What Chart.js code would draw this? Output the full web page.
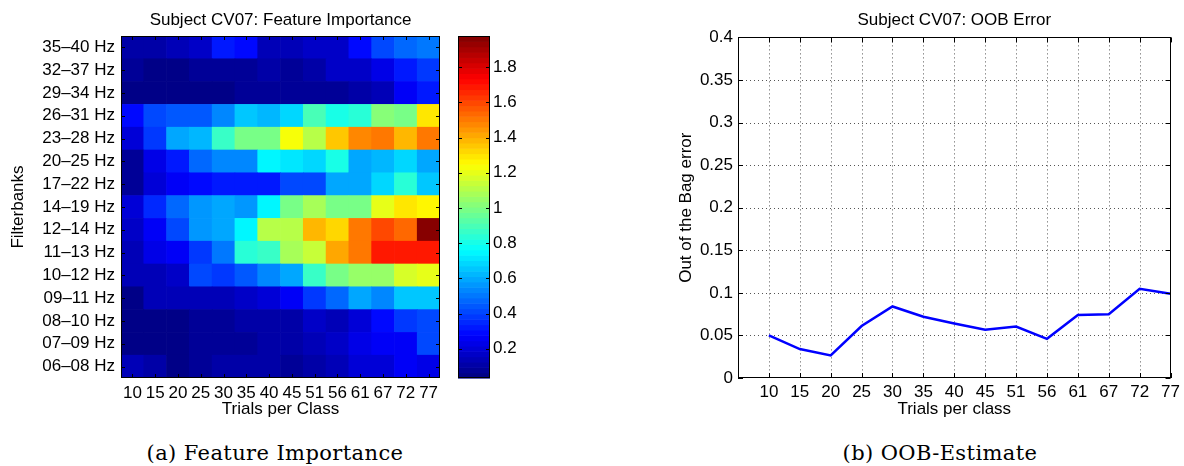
<!DOCTYPE html>
<html><head><meta charset="utf-8">
<script src="https://cdn.jsdelivr.net/npm/chart.js@4.4.1/dist/chart.umd.min.js"></script>
<style>
html,body{margin:0;padding:0;background:#fff;}
body{width:1184px;height:466px;position:relative;overflow:hidden;}
canvas{position:absolute;}
.cap{position:absolute;font-family:"DejaVu Serif",serif;font-size:21px;letter-spacing:0.4px;color:#000;white-space:nowrap;transform:translateX(-50%);line-height:24px;}
</style></head><body>
<canvas id="heat" width="446" height="420" style="left:0;top:0"></canvas>
<canvas id="cbar" width="64" height="420" style="left:458px;top:0"></canvas>
<canvas id="oob" width="524" height="420" style="left:660px;top:0"></canvas>
<div class="cap" style="left:275px;top:441px">(a) Feature Importance</div>
<div class="cap" style="left:940px;top:441px">(b) OOB-Estimate</div>
<script>
// ---- data ----
const trials = ['10','15','20','25','30','35','40','45','51','56','61','67','72','77'];
const bands = ['06–08 Hz','07–09 Hz','08–10 Hz','09–11 Hz','10–12 Hz','11–13 Hz','12–14 Hz','14–19 Hz','17–22 Hz','20–25 Hz','23–28 Hz','26–31 Hz','29–34 Hz','32–37 Hz','35–40 Hz'];
const r06_08 = [0.13,0.10,0.06,0.08,0.10,0.10,0.10,0.08,0.10,0.15,0.20,0.20,0.27,0.24];
const r07_09 = [0.06,0.05,0.05,0.08,0.08,0.07,0.10,0.10,0.13,0.16,0.22,0.25,0.27,0.40];
const r08_10 = [0.06,0.05,0.05,0.08,0.08,0.10,0.10,0.10,0.18,0.14,0.20,0.29,0.38,0.40];
const r09_11 = [0.04,0.13,0.13,0.13,0.13,0.18,0.21,0.27,0.38,0.47,0.61,0.52,0.66,0.66];
const r10_12 = [0.15,0.13,0.18,0.40,0.39,0.44,0.54,0.61,0.86,1.00,1.05,1.05,1.17,1.20];
const r11_13 = [0.15,0.22,0.27,0.38,0.49,0.84,0.86,1.08,1.15,1.41,1.51,1.68,1.68,1.69];
const r12_14 = [0.18,0.27,0.42,0.57,0.61,0.74,1.10,1.10,1.37,1.32,1.51,1.59,1.54,1.97];
const r14_19 = [0.20,0.35,0.47,0.57,0.61,0.58,0.76,0.98,1.08,0.98,0.98,1.20,1.29,1.25];
const r17_22 = [0.08,0.20,0.27,0.30,0.32,0.33,0.33,0.42,0.42,0.61,0.61,0.70,0.84,0.65];
const r20_25 = [0.07,0.22,0.32,0.48,0.54,0.54,0.76,0.73,0.69,0.81,0.61,0.64,0.70,0.61];
const r23_28 = [0.20,0.38,0.61,0.64,0.88,1.00,1.00,1.22,1.10,1.35,1.47,1.50,1.37,1.51];
const r26_31 = [0.28,0.42,0.44,0.43,0.54,0.66,0.62,0.70,0.91,0.81,0.84,1.03,1.00,1.29];
const r29_34 = [0.06,0.05,0.05,0.05,0.05,0.07,0.07,0.07,0.07,0.07,0.12,0.13,0.27,0.31];
const r32_37 = [0.08,0.06,0.06,0.08,0.08,0.08,0.10,0.07,0.12,0.16,0.18,0.22,0.33,0.38];
const r35_40 = [0.10,0.10,0.14,0.17,0.32,0.28,0.15,0.15,0.18,0.16,0.28,0.40,0.46,0.50];
const rowsBottomUp = [r06_08,r07_09,r08_10,r09_11,r10_12,r11_13,r12_14,r14_19,r17_22,r20_25,r23_28,r26_31,r29_34,r32_37,r35_40];
const cbarTicks = [0.2,0.4,0.6,0.8,1,1.2,1.4,1.6,1.8];
const oobError = [0.050,0.034,0.0265,0.061,0.084,0.072,0.064,0.0566,0.0605,0.046,0.074,0.075,0.1047,0.099];
const oobTicks = [0,0.05,0.1,0.15,0.2,0.25,0.3,0.35,0.4];
const CMIN = 0.034, CMAX = 1.977;

// ---- helpers ----
function cl(x){return Math.max(0,Math.min(1,x));}
function jetIdx(k){
  const x=(k+0.5)/64;
  const r=cl(1.5-Math.abs(4*x-3)), g=cl(1.5-Math.abs(4*x-2)), b=cl(1.5-Math.abs(4*x-1));
  return `rgb(${Math.round(r*255)},${Math.round(g*255)},${Math.round(b*255)})`;
}
function jet(v){
  const k=Math.min(63,Math.max(0,Math.floor((v-CMIN)/(CMAX-CMIN)*64)));
  return jetIdx(k);
}
Chart.defaults.font.family = '"Liberation Sans", Arial, sans-serif';
Chart.defaults.color = '#000';
const F17 = {size:17, weight:'normal'};
const NOGRID = {display:false, drawTicks:false};

const frame = {
  id:'frame',
  afterDraw(chart, args, opts){
    const ctx=chart.ctx, a=chart.chartArea, tl=opts.tick||4;
    ctx.save();
    ctx.strokeStyle='#000'; ctx.lineWidth=1; ctx.setLineDash([]);
    ctx.strokeRect(Math.round(a.left)+0.5, Math.round(a.top)+0.5, Math.round(a.right-a.left)-1, Math.round(a.bottom-a.top)-1);
    ctx.beginPath();
    const xs=chart.scales.x, ys=chart.scales.y;
    if(opts.xticks!==false && xs && xs.options.display!==false){
      xs.ticks.forEach((t,i)=>{const p=Math.round(xs.getPixelForTick(i))+0.5;
        ctx.moveTo(p,a.bottom); ctx.lineTo(p,a.bottom-tl); ctx.moveTo(p,a.top); ctx.lineTo(p,a.top+tl);});
    }
    if(ys){
      ys.ticks.forEach((t,i)=>{const p=Math.round(ys.getPixelForTick(i))+0.5;
        ctx.moveTo(a.left,p); ctx.lineTo(a.left+tl,p); ctx.moveTo(a.right,p); ctx.lineTo(a.right-tl,p);});
    }
    ctx.stroke();
    ctx.restore();
  }
};

// ---- heatmap ----
new Chart(document.getElementById('heat'), {
  type:'bar',
  data:{labels:trials, datasets: rowsBottomUp.map((row,i)=>({
    label:bands[i], data:row.map(()=>1), backgroundColor:row.map(jet),
    borderWidth:0, barPercentage:1, categoryPercentage:1, stack:'s'}))},
  options:{
    responsive:false, animation:false, devicePixelRatio:1,
    layout:{padding:{top:0,right:6,bottom:0,left:0}},
    plugins:{legend:{display:false}, tooltip:{enabled:false},
      title:{display:true, text:'Subject CV07: Feature Importance', fullSize:false, font:F17, color:'#000', padding:{top:9.8,bottom:5.8}},
      frame:{tick:4}},
    scales:{
      x:{stacked:true, grid:NOGRID, border:{display:false},
        ticks:{font:F17, color:'#000', padding:5, maxRotation:0, autoSkip:false},
        title:{display:true, text:'Trials per Class', font:F17, color:'#000', padding:{top:0,bottom:0}},
        afterFit(s){s.height=42;}},
      y:{stacked:true, min:0, max:15, grid:NOGRID, border:{display:false},
        afterBuildTicks(s){s.ticks=bands.map((_,i)=>({value:i+0.5}));},
        ticks:{font:F17, color:'#000', padding:6, autoSkip:false, callback:(v)=>bands[Math.floor(v)]},
        title:{display:true, text:'Filterbanks', font:F17, color:'#000', padding:{top:8,bottom:0}},
        afterFit(s){s.width=121;}}
    }
  },
  plugins:[frame]
});

// ---- colorbar ----
const gradient = {
  id:'gradient',
  beforeDraw(chart){
    const ctx=chart.ctx, a=chart.chartArea, ys=chart.scales.y;
    ctx.save();
    for(let k=0;k<64;k++){
      const y0=ys.getPixelForValue(CMIN+k/64*(CMAX-CMIN));
      const y1=ys.getPixelForValue(CMIN+(k+1)/64*(CMAX-CMIN));
      ctx.fillStyle=jetIdx(k);
      ctx.fillRect(a.left, y1, a.right-a.left, y0-y1+0.6);
    }
    ctx.restore();
  }
};
new Chart(document.getElementById('cbar'), {
  type:'scatter',
  data:{datasets:[{data:[]}]},
  options:{
    responsive:false, animation:false, devicePixelRatio:1,
    layout:{padding:{top:36,bottom:42,left:0,right:0}},
    plugins:{legend:{display:false}, tooltip:{enabled:false}, frame:{tick:4, xticks:false}},
    scales:{
      x:{display:false, min:0, max:1},
      y:{position:'right', min:CMIN, max:CMAX, grid:NOGRID, border:{display:false},
        afterBuildTicks(s){s.ticks=cbarTicks.map(v=>({value:v}));},
        ticks:{font:F17, color:'#000', padding:3, callback:(v)=>String(+v.toFixed(1))},
        afterFit(s){s.width=32;}}
    }
  },
  plugins:[gradient, frame]
});

// ---- OOB line ----
const grid = {
  id:'dotgrid',
  beforeDatasetsDraw(chart){
    const ctx=chart.ctx, a=chart.chartArea, xs=chart.scales.x, ys=chart.scales.y;
    ctx.save();
    ctx.strokeStyle='#555'; ctx.lineWidth=1; ctx.setLineDash([1,3]);
    ctx.beginPath();
    xs.ticks.forEach((t,i)=>{const p=Math.round(xs.getPixelForTick(i))+0.5;
      if(p>a.left+2 && p<a.right-2){ctx.moveTo(p,a.top); ctx.lineTo(p,a.bottom);}});
    ys.ticks.forEach((t,i)=>{const p=Math.round(ys.getPixelForTick(i))+0.5;
      if(p>a.top+2 && p<a.bottom-2){ctx.moveTo(a.left,p); ctx.lineTo(a.right,p);}});
    ctx.stroke();
    ctx.restore();
  }
};
new Chart(document.getElementById('oob'), {
  type:'line',
  data:{datasets:[{data:oobError.map((v,i)=>({x:i+1,y:v})), borderColor:'#0000ff', borderWidth:2.5,
    pointRadius:0, tension:0, fill:false}]},
  options:{
    responsive:false, animation:false, devicePixelRatio:1,
    layout:{padding:{top:0,right:13,bottom:0,left:0}},
    plugins:{legend:{display:false}, tooltip:{enabled:false},
      title:{display:true, text:'Subject CV07: OOB Error', fullSize:false, font:F17, color:'#000', padding:{top:10,bottom:7}},
      frame:{tick:5}},
    scales:{
      x:{type:'linear', min:0, max:14, grid:NOGRID, border:{display:false},
        afterBuildTicks(s){s.ticks=trials.map((_,i)=>({value:i+1}));},
        ticks:{font:F17, color:'#000', padding:4, maxRotation:0, autoSkip:false, callback:(v)=>trials[v-1]},
        title:{display:true, text:'Trials per class', font:F17, color:'#000', padding:{top:0,bottom:0}},
        afterFit(s){s.height=42;}},
      y:{min:0, max:0.4, grid:NOGRID, border:{display:false},
        afterBuildTicks(s){s.ticks=oobTicks.map(v=>({value:v}));},
        ticks:{font:F17, color:'#000', padding:5, callback:(v)=>String(+v.toFixed(2))},
        title:{display:true, text:'Out of the Bag error', font:F17, color:'#000', padding:{top:16,bottom:0}},
        afterFit(s){s.width=78;}}
    }
  },
  plugins:[grid, frame]
});
</script>
</body></html>
